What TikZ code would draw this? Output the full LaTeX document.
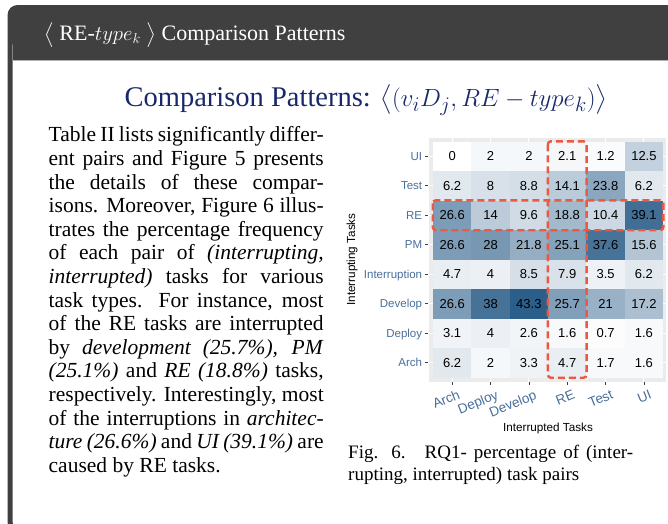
\documentclass[tikz,border=0pt]{standalone}
\usepackage{amsmath}
\usepackage{fontspec}
\setmainfont{Liberation Serif}
\setsansfont{Liberation Sans}
\usetikzlibrary{positioning}
\definecolor{headgray}{RGB}{64,64,64}
\definecolor{titleblue}{RGB}{25,40,105}
\definecolor{hmhigh}{RGB}{44,94,138}
\definecolor{axisblue}{RGB}{74,111,155}
\definecolor{panelgray}{RGB}{235,235,235}
\definecolor{dashred}{RGB}{236,88,66}
\begin{document}
\begin{tikzpicture}[x=1pt, y=-1pt,
    cell/.style = {minimum width=38.35pt, minimum height=29.5pt, inner sep=0pt, text height=9.3pt, text depth=0pt, font=\sffamily\fontsize{13}{13}\selectfont},
    ylab/.style = {text=axisblue, inner sep=0pt, text height=8.3pt, text depth=0pt, font=\sffamily\fontsize{11.5}{11.5}\selectfont},
    xlab/.style = {anchor=north east, rotate=22, text=axisblue, inner sep=0pt, font=\sffamily\fontsize{13.5}{13.5}\selectfont},
    axtitle/.style = {inner sep=0pt, font=\sffamily\fontsize{11.7}{11.7}\selectfont},
    axtick/.style = {draw=black!75, line width=0.6pt},
    hilite/.style = {draw=dashred, line width=2.4pt, dash pattern=on 7pt off 4pt, rounded corners=3pt}]
    \useasboundingbox (0,0) rectangle (668,523);
    \clip (0,0) rectangle (668,523);
    % box
    \fill[headgray, rounded corners=10pt] (7.5,5) rectangle (720,532);
    \fill[white, rounded corners=6pt] (12.5,40) rectangle (715,527);
    \fill[headgray] (12.5,38) rectangle (720,60);
    \draw[gray!60, line width=1.2pt] (12.5,60.6) -- (720,60.6);
    \node[anchor=base west, text=white, inner sep=0pt, font=\fontsize{22}{22}\selectfont] (head) at (44,40) {$\big\langle$\ RE-$type_k$\ $\big\rangle$ Comparison Patterns};
    \node[anchor=base, text=titleblue, inner sep=0pt, font=\fontsize{28.5}{28.5}\selectfont] (title) at (366,106) {Comparison Patterns: $\left\langle (v_iD_j, RE-type_k)\right\rangle$};
    % text
    \node[anchor=north west, text width=275pt, align=justify, inner sep=0pt, font=\fontsize{21.5}{23.6}\selectfont] (para) at (48.5,126.5) {\tolerance=10000 Table II lists significantly differ-\linebreak ent pairs and Figure 5 presents\linebreak the details of these compar-\linebreak isons. Moreover, Figure 6 illus-\linebreak trates the percentage frequency\linebreak of each pair of \textit{(interrupting,}\linebreak \textit{interrupted)} tasks for various\linebreak task types. For instance, most\linebreak of the RE tasks are interrupted\linebreak by \textit{development (25.7\%), PM}\linebreak \textit{(25.1\%)} and \textit{RE (18.8\%)} tasks,\linebreak respectively. Interestingly, most\linebreak of the interruptions in \textit{architec-}\linebreak \textit{ture (26.6\%)} and \textit{UI (39.1\%)} are\linebreak caused by RE tasks.};
    % heatmap
    \fill[panelgray] (428.5,137.5) rectangle (665.5,381.5);
    \foreach \c in {1,...,6}
        \draw[white, line width=1pt] ({433+38.35*(\c-0.5)},137.5) -- ({433+38.35*(\c-0.5)},381.5);
    \foreach \r in {1,...,8}
        \draw[white, line width=1pt] (428.5,{141.5+29.5*(\r-0.5)}) -- (665.5,{141.5+29.5*(\r-0.5)});
    \foreach \vals [count=\r] in {{0,2,2,2.1,1.2,12.5}, {6.2,8,8.8,14.1,23.8,6.2}, {26.6,14,9.6,18.8,10.4,39.1}, {26.6,28,21.8,25.1,37.6,15.6}, {4.7,4,8.5,7.9,3.5,6.2}, {26.6,38,43.3,25.7,21,17.2}, {3.1,4,2.6,1.6,0.7,1.6}, {6.2,2,3.3,4.7,1.7,1.6}}
        \foreach \v [count=\c] in \vals {
            \pgfmathsetmacro\hmpct{100*\v/43.3}
            \node[cell, fill=hmhigh!\hmpct!white] (c-\r-\c) at ({433+38.35*(\c-0.5)}, {141.5+29.5*(\r-0.5)}) {\v};
        }
    \foreach \lab [count=\r] in {UI,Test,RE,PM,Interruption,Develop,Deploy,Arch} {
        \node[ylab, left=10.5pt of c-\r-1.west] (yl-\r) {\lab};
        \draw[axtick] ([xshift=-8pt]c-\r-1.west) -- ([xshift=-4.5pt]c-\r-1.west);
    }
    \foreach \lab [count=\c] in {Arch,Deploy,Develop,RE,Test,UI} {
        \node[xlab] (xl-\c) at ([xshift=5pt, yshift=-11.5pt]c-8-\c.south) {\lab};
        \draw[axtick] ([yshift=-4pt]c-8-\c.south) -- ([yshift=-7.5pt]c-8-\c.south);
    }
    \node[axtitle, rotate=90] (ytitle) at (352,259.5) {Interrupting Tasks};
    \node[axtitle] (xtitle) at (548,428) {Interrupted Tasks};
    \draw[hilite] (c-3-1.north west) rectangle (c-3-6.south east);
    \draw[hilite] (c-1-4.north west) rectangle (c-8-4.south east);
    % caption
    \node[anchor=north west, text width=285pt, align=justify, inner sep=0pt, font=\fontsize{19}{21.5}\selectfont] (caption) at (348,445) {\tolerance=10000 Fig. 6.\quad RQ1- percentage of (inter-\linebreak rupting, interrupted) task pairs};
\end{tikzpicture}
\end{document}
